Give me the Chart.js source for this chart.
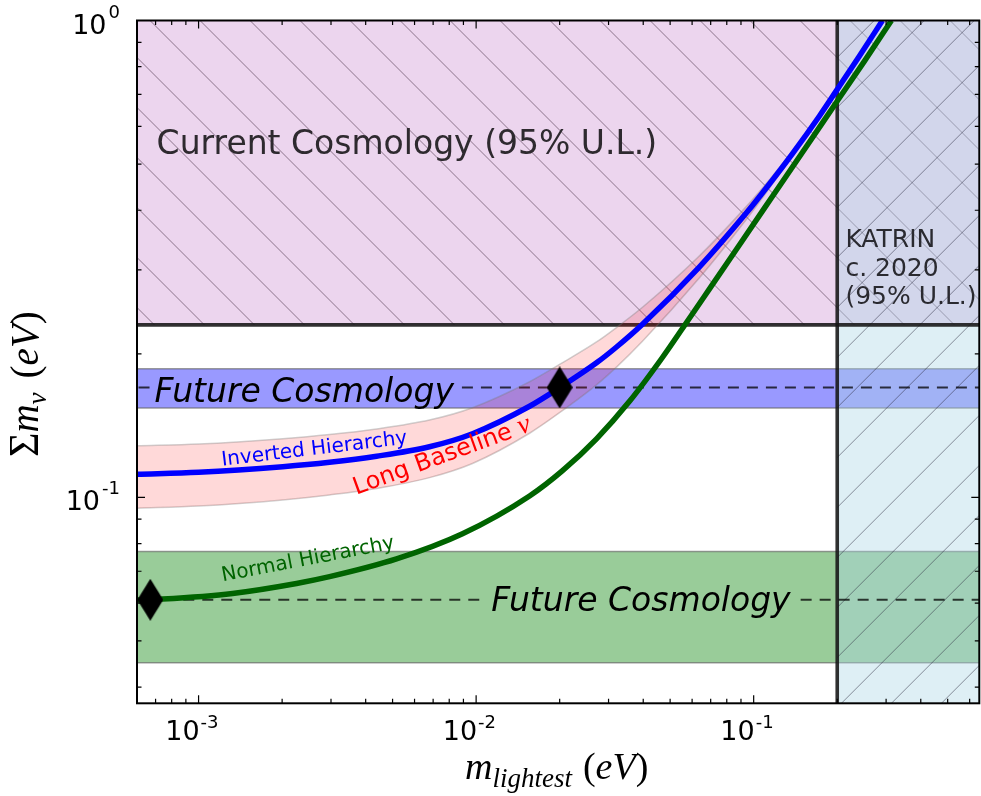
<!DOCTYPE html>
<html><head><meta charset="utf-8">
<script src="https://cdn.jsdelivr.net/npm/chart.js@4.4.1/dist/chart.umd.min.js"></script>
<style>html,body{margin:0;padding:0;background:#fff;overflow:hidden;}canvas{display:block;}</style>
</head><body>
<canvas id="c" width="981" height="796"></canvas>
<script>
// ---------- data ----------
const xMin = 6e-4, xMax = 0.65, yMin = 0.037, yMax = 1.0;

// Inverted hierarchy: lightest mass (eV) vs sum of masses (eV)
const mIH   = [0.0006, 0.001, 0.00201, 0.002965, 0.00438, 0.00679, 0.0097, 0.01558, 0.01997, 0.02715, 0.03205, 0.03975, 0.0638, 0.0942, 0.1112, 0.138, 0.1726, 0.1987, 0.2405, 0.291];
const sumIH = [0.1118, 0.1129, 0.1160, 0.1185, 0.1220, 0.1277, 0.1360, 0.1553, 0.1698, 0.1915, 0.2067, 0.2307, 0.3044, 0.3951, 0.4460, 0.5260, 0.6307, 0.7127, 0.8424, 1.0];

// Long-baseline band around the inverted hierarchy
const mLB     = [0.0006, 0.001, 0.00201, 0.002965, 0.00438, 0.00679, 0.0097, 0.01558, 0.01997, 0.02715, 0.03205, 0.03975, 0.0638, 0.0942, 0.1112, 0.138];
const lbUpper = [0.1283, 0.1294, 0.1328, 0.1355, 0.1392, 0.1453, 0.1542, 0.1748, 0.1900, 0.2118, 0.2271, 0.2504, 0.3211, 0.4076, 0.4558, 0.5324];
const lbLower = [0.0949, 0.0959, 0.0988, 0.1012, 0.1044, 0.1100, 0.1178, 0.1363, 0.1505, 0.1722, 0.1876, 0.2125, 0.2887, 0.3829, 0.4363, 0.5197];

// Normal hierarchy
const mNH   = [0.0006, 0.000742, 0.001326, 0.002254, 0.002965, 0.005167, 0.00893, 0.01558, 0.02048, 0.02715, 0.0357, 0.0469, 0.05632, 0.06931, 0.0911, 0.1208, 0.1589, 0.1987, 0.2507, 0.3136];
const sumNH = [0.0609, 0.0612, 0.0629, 0.0660, 0.0682, 0.0743, 0.0839, 0.1007, 0.1138, 0.1327, 0.1590, 0.1965, 0.2293, 0.2737, 0.3458, 0.4401, 0.5563, 0.6737, 0.8218, 1.0];

// Diamond markers
const diamondM = [0.00067, 0.020];
const diamondS = [0.061, 0.170];

// Future cosmology bands: [low, centre, high]
const futureIH = [0.154, 0.170, 0.186];
const futureNH = [0.045, 0.061, 0.077];

// Exclusion limits
const cosmoLimit  = 0.23;  // current cosmology, sum of masses (eV)
const katrinLimit = 0.2;   // KATRIN, lightest mass (eV)

// Axis ticks
const xMajor = [1e-3, 1e-2, 1e-1];
const xMajorExp = ['-3', '-2', '-1'];
const yMajor = [0.1, 1];
const yMajorExp = ['-1', '0'];
const minorMult = [2, 3, 4, 5, 6, 7, 8, 9];
const decades = [1e-4, 1e-3, 1e-2, 1e-1];

// ---------- helpers ----------
const pts = (xs, ys) => xs.map((x, i) => ({x: x, y: ys[i]}));

const dia = document.createElement('canvas');
dia.width = 26; dia.height = 42;
(function(){ const g = dia.getContext('2d'); g.fillStyle = '#000'; g.beginPath();
  g.moveTo(13, 0); g.lineTo(26, 21); g.lineTo(13, 42); g.lineTo(0, 21); g.closePath(); g.fill(); })();

function hatch(ctx, x0, y0, x1, y1, dir, sp, phase, color) {
  ctx.save();
  ctx.beginPath(); ctx.rect(x0, y0, x1 - x0, y1 - y0); ctx.clip();
  ctx.strokeStyle = color; ctx.lineWidth = 1;
  ctx.beginPath();
  if (dir === '\\') {
    let c = Math.floor((x0 - y1 - phase) / sp) * sp + phase;
    for (; c <= x1 - y0; c += sp) { ctx.moveTo(c + y0, y0); ctx.lineTo(c + y1, y1); }
  } else {
    let c = Math.floor((x0 + y0 - phase) / sp) * sp + phase;
    for (; c <= x1 + y1; c += sp) { ctx.moveTo(c - y0, y0); ctx.lineTo(c - y1, y1); }
  }
  ctx.stroke();
  ctx.restore();
}

function rich(ctx, parts, x, y) {
  let cx = x;
  parts.forEach(p => {
    ctx.font = p.f;
    ctx.fillText(p.t, cx, y + (p.dy || 0));
    cx += ctx.measureText(p.t).width + (p.sp || 0);
  });
  return cx;
}

const SANS = '"DejaVu Sans", sans-serif';
const SERIF = '"Liberation Serif", "DejaVu Serif", serif';
const fcFont = 'italic 33px ' + SANS;

const drawPlugin = {
  id: 'drawPlugin',
  beforeDatasetsDraw(c) {
    const ctx = c.ctx, a = c.chartArea, X = c.scales.x, Y = c.scales.y;
    const px = v => X.getPixelForValue(v), py = v => Y.getPixelForValue(v);
    ctx.save();
    ctx.beginPath(); ctx.rect(a.left, a.top, a.right - a.left, a.bottom - a.top); ctx.clip();

    // future cosmology bands
    [[futureIH, 'rgba(0,0,255,0.4)'], [futureNH, 'rgba(0,128,0,0.4)']].forEach(([b, col]) => {
      const yT = py(b[2]), yB = py(b[0]);
      ctx.fillStyle = col; ctx.fillRect(a.left, yT, a.right - a.left, yB - yT);
      ctx.strokeStyle = 'rgba(90,90,90,0.6)'; ctx.lineWidth = 1.5;
      ctx.beginPath(); ctx.moveTo(a.left, yT); ctx.lineTo(a.right, yT);
      ctx.moveTo(a.left, yB); ctx.lineTo(a.right, yB); ctx.stroke();
    });

    // current cosmology region
    const yc = py(cosmoLimit);
    ctx.fillStyle = '#ecd5ee';
    ctx.fillRect(a.left, a.top, a.right - a.left, yc - a.top);
    hatch(ctx, a.left, a.top, a.right, yc, '\\', 50, 29.5, 'rgba(40,20,40,0.5)');

    // KATRIN region
    const xk = px(katrinLimit);
    ctx.fillStyle = 'rgba(173,216,230,0.4)';
    ctx.fillRect(xk, a.top, a.right - xk, a.bottom - a.top);
    hatch(ctx, xk, a.top, a.right, a.bottom, '/', 50, 44.7, 'rgba(40,40,60,0.5)');

    // region edges
    ctx.strokeStyle = 'rgba(20,20,20,0.88)'; ctx.lineWidth = 3.6;
    ctx.beginPath(); ctx.moveTo(a.left, yc); ctx.lineTo(a.right, yc); ctx.stroke();
    ctx.beginPath(); ctx.moveTo(xk, a.top); ctx.lineTo(xk, a.bottom); ctx.stroke();

    // dashed centre lines with gaps for the labels
    ctx.font = fcFont;
    const wFC = ctx.measureText('Future Cosmology').width;
    const dashes = [
      {y: py(futureIH[1]), l: px(6.94e-4), gl: 5, gr: 8},
      {y: py(futureNH[1]), l: px(0.01134), gl: 12, gr: 10}
    ];
    ctx.strokeStyle = 'rgba(0,0,0,0.75)'; ctx.lineWidth = 1.8; ctx.setLineDash([11, 8]);
    dashes.forEach(d => {
      ctx.beginPath(); ctx.moveTo(d.l - d.gl, d.y); ctx.lineTo(a.left, d.y); ctx.stroke();
      ctx.beginPath(); ctx.moveTo(d.l + wFC + d.gr, d.y); ctx.lineTo(a.right, d.y); ctx.stroke();
    });
    ctx.setLineDash([]);
    ctx.restore();
  },
  afterDatasetsDraw(c) {
    const ctx = c.ctx, a = c.chartArea, X = c.scales.x, Y = c.scales.y;
    const px = v => X.getPixelForValue(v), py = v => Y.getPixelForValue(v);
    ctx.save();
    ctx.textBaseline = 'alphabetic'; ctx.textAlign = 'left';

    // region texts
    ctx.fillStyle = '#2e2a2f'; ctx.font = '33px ' + SANS;
    ctx.fillText('Current Cosmology (95% U.L.)', px(7.06e-4), py(0.525));
    ctx.font = '25px ' + SANS; ctx.fillStyle = '#2a2a30';
    ['KATRIN', 'c. 2020', '(95% U.L.)'].forEach((t, i) => ctx.fillText(t, px(0.214), py(0.3347) + i * 28.5));

    ctx.fillStyle = '#000'; ctx.font = fcFont;
    ctx.fillText('Future Cosmology', px(6.94e-4), py(futureIH[1]) + 14.7);
    ctx.fillText('Future Cosmology', px(0.01134), py(futureNH[1]) + 11);

    // curve labels
    const rot = (txtFn, m, s, deg) => { ctx.save(); ctx.translate(px(m), py(s)); ctx.rotate(-deg * Math.PI / 180); txtFn(); ctx.restore(); };
    rot(() => { ctx.fillStyle = '#0000ff'; ctx.font = '20px ' + SANS; ctx.fillText('Inverted Hierarchy', 0, 0); }, 0.001217, 0.1165, 6.8);
    rot(() => { ctx.fillStyle = '#ff0000'; rich(ctx, [{t: 'Long Baseline ', f: '24px ' + SANS}, {t: 'ν', f: 'italic 28px ' + SERIF}], 0, 0); }, 0.0037, 0.1013, 20);
    rot(() => { ctx.fillStyle = '#006400'; ctx.font = '20px ' + SANS; ctx.fillText('Normal Hierarchy', 0, 0); }, 0.001223, 0.0667, 10.8);

    // frame
    ctx.strokeStyle = '#000'; ctx.lineWidth = 2;
    ctx.strokeRect(a.left, a.top, a.right - a.left, a.bottom - a.top);

    // ticks (inward, all four sides)
    ctx.lineWidth = 1.2;
    ctx.beginPath();
    const xt = (v, len) => { const x = px(v); ctx.moveTo(x, a.bottom); ctx.lineTo(x, a.bottom - len); ctx.moveTo(x, a.top); ctx.lineTo(x, a.top + len); };
    const yt = (v, len) => { const y = py(v); ctx.moveTo(a.left, y); ctx.lineTo(a.left + len, y); ctx.moveTo(a.right, y); ctx.lineTo(a.right - len, y); };
    xMajor.forEach(v => xt(v, 8));
    yMajor.forEach(v => yt(v, 8));
    decades.forEach(d => minorMult.forEach(k => {
      const v = k * d;
      if (v > xMin * 1.001 && v < xMax) xt(v, 4.5);
      if (v > yMin && v < yMax * 0.999) yt(v, 4.5);
    }));
    ctx.stroke();

    // tick labels
    ctx.fillStyle = '#000';
    xMajor.forEach((v, i) => {
      const x = px(v);
      ctx.font = '27px ' + SANS; ctx.textAlign = 'right';
      ctx.fillText('10', x + 1, 740);
      ctx.font = '18px ' + SANS; ctx.textAlign = 'left';
      ctx.fillText(xMajorExp[i], x + 2, 728);
    });
    yMajor.forEach((v, i) => {
      const y = py(v);
      ctx.font = '18px ' + SANS; ctx.textAlign = 'right';
      ctx.fillText(yMajorExp[i], 120, y - 3);
      const w = ctx.measureText(yMajorExp[i]).width;
      ctx.font = '27px ' + SANS;
      ctx.fillText('10', 120 - w - 2, y + 13);
    });
    ctx.textAlign = 'left';

    // axis titles
    const xParts = [
      {t: 'm', f: 'italic 38px ' + SERIF},
      {t: 'lightest', f: 'italic 27px ' + SERIF, dy: 8, sp: 11},
      {t: '(', f: '38px ' + SERIF},
      {t: 'eV', f: 'italic 38px ' + SERIF},
      {t: ')', f: '38px ' + SERIF}
    ];
    rich(ctx, xParts, 465, 779);

    const yParts = [
      {t: 'Σ', f: '42px ' + SERIF},
      {t: 'm', f: 'italic 39px ' + SERIF},
      {t: 'ν', f: 'italic 27px ' + SERIF, dy: 8, sp: 14},
      {t: '(', f: '39px ' + SERIF},
      {t: 'eV', f: 'italic 39px ' + SERIF},
      {t: ')', f: '39px ' + SERIF}
    ];
    ctx.save(); ctx.translate(38, 457); ctx.rotate(-Math.PI / 2);
    rich(ctx, yParts, 0, 0);
    ctx.restore();

    ctx.restore();
  }
};

new Chart(document.getElementById('c'), {
  type: 'line',
  data: {
    datasets: [
      {label: 'diamonds', data: pts(diamondM, diamondS), showLine: false, pointStyle: dia, pointRadius: 13,
       backgroundColor: '#000', borderColor: '#000', clip: false, order: 0},
      {label: 'Inverted Hierarchy', data: pts(mIH, sumIH), borderColor: '#0000ff', borderWidth: 5.5, pointRadius: 0,
       cubicInterpolationMode: 'monotone', fill: false, clip: 0, order: 1},
      {label: 'Normal Hierarchy', data: pts(mNH, sumNH), borderColor: '#006400', borderWidth: 5.5, pointRadius: 0,
       cubicInterpolationMode: 'monotone', fill: false, clip: 0, order: 2},
      {label: 'LB upper', data: pts(mLB, lbUpper), borderColor: 'rgba(120,120,120,0.35)', borderWidth: 1.5, pointRadius: 0,
       cubicInterpolationMode: 'monotone', fill: '+1', backgroundColor: 'rgba(255,0,0,0.15)', clip: 0, order: 3},
      {label: 'LB lower', data: pts(mLB, lbLower), borderColor: 'rgba(120,120,120,0.35)', borderWidth: 1.5, pointRadius: 0,
       cubicInterpolationMode: 'monotone', fill: false, clip: 0, order: 4}
    ]
  },
  options: {
    responsive: false, maintainAspectRatio: false, animation: false, events: [],
    layout: {autoPadding: false, padding: {left: 137, right: 1.7, top: 20.5, bottom: 92.7}},
    plugins: {legend: {display: false}, tooltip: {enabled: false}},
    scales: {
      x: {type: 'logarithmic', min: xMin, max: xMax, display: false},
      y: {type: 'logarithmic', min: yMin, max: yMax, display: false}
    }
  },
  plugins: [drawPlugin]
});
</script>
</body></html>
